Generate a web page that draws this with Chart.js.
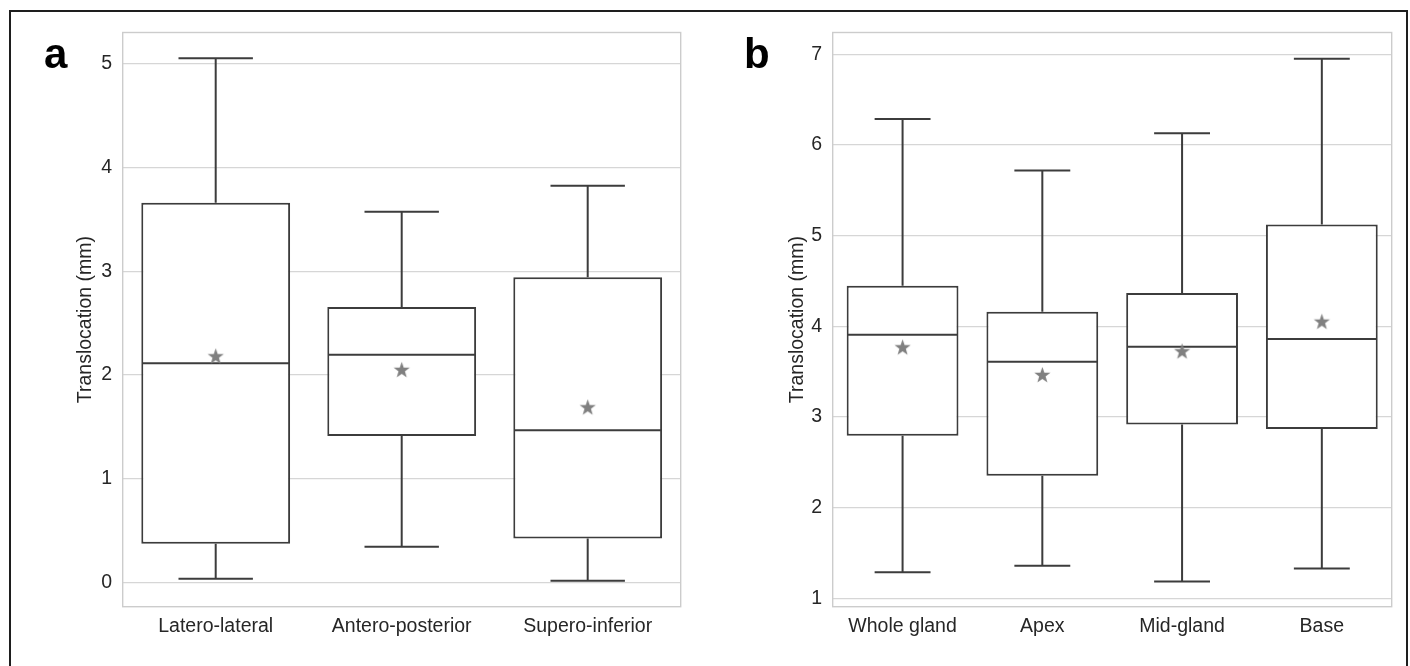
<!DOCTYPE html>
<html><head><meta charset="utf-8">
<script src="https://cdn.jsdelivr.net/npm/chart.js@4.4.1/dist/chart.umd.min.js"></script>
<style>
html,body{margin:0;padding:0;background:#fff;}
#wrap{position:relative;width:1410px;height:666px;overflow:hidden;background:#fff;}
#frame{position:absolute;left:9px;top:10px;width:1399px;height:720px;border:2px solid #1e1e1e;box-sizing:border-box;}
.pl{position:absolute;font-family:'Liberation Sans',Arial,sans-serif;font-weight:bold;font-size:42px;line-height:42px;color:#000;}
#ca{position:absolute;left:0;top:0;}
#cb{position:absolute;left:700px;top:0;}
</style>
</head><body>
<div id="wrap">
  <div id="frame"></div>
  <canvas id="ca" width="700" height="666"></canvas>
  <canvas id="cb" width="710" height="666"></canvas>
  <div class="pl" style="left:44px;top:33px;">a</div>
  <div class="pl" style="left:744px;top:33px;">b</div>
</div>
<script>
// ---- Panel a data ----
const CATS_A = ['Latero-lateral', 'Antero-posterior', 'Supero-inferior'];
const A_LO   = [0.035, 0.343, 0.015];
const A_Q1   = [0.372, 1.411, 0.424];
const A_MED  = [2.113, 2.196, 1.466];
const A_Q3   = [3.662, 2.656, 2.942];
const A_HI   = [5.055, 3.575, 3.826];
const A_MEAN = [2.176, 2.045, 1.684];
const TICKS_A = [0, 1, 2, 3, 4, 5];

// ---- Panel b data ----
const CATS_B = ['Whole gland', 'Apex', 'Mid-gland', 'Base'];
const B_LO   = [1.290, 1.361, 1.188, 1.331];
const B_Q1   = [2.794, 2.354, 2.918, 2.868];
const B_MED  = [3.907, 3.610, 3.776, 3.860];
const B_Q3   = [4.448, 4.161, 4.367, 5.123];
const B_HI   = [6.286, 5.720, 6.128, 6.950];
const B_MEAN = [3.764, 3.460, 3.720, 4.047];
const TICKS_B = [1, 2, 3, 4, 5, 6, 7];

const Y_TITLE = 'Translocation (mm)';

const LINE = '#3c3c3c';
const LW = 2;
const GRID = '#d6d6d6';
const TXT = '#262626';
const FONT = "'Liberation Sans', Arial, sans-serif";

function makeStar(r, color) {
  const c = document.createElement('canvas');
  const s = Math.ceil(r * 2 + 2);
  c.width = s; c.height = s;
  const g = c.getContext('2d');
  g.translate(s / 2, s / 2);
  g.beginPath();
  for (let k = 0; k < 10; k++) {
    const rad = k % 2 === 0 ? r : r * 0.4;
    const ang = -Math.PI / 2 + k * Math.PI / 5;
    g.lineTo(rad * Math.cos(ang), rad * Math.sin(ang));
  }
  g.closePath();
  g.fillStyle = color;
  g.fill();
  return c;
}
const STAR = makeStar(8.5, '#808080');

const whiskerPlugin = {
  id: 'whiskers',
  afterDatasetDraw(chart, args) {
    if (args.index !== 0) return;
    const st = chart.options.plugins.whiskers;
    const { ctx } = chart;
    const x = chart.scales.x, y = chart.scales.y;
    const meta = chart.getDatasetMeta(0);
    ctx.save();
    ctx.strokeStyle = LINE;
    ctx.lineWidth = LW;
    ctx.lineCap = 'butt';
    st.lo.forEach((_, i) => {
      const bw = meta.data[i].width;
      const cx = x.getPixelForValue(i);
      const half = bw / 2, cap = bw / 4;
      const pLo = y.getPixelForValue(st.lo[i]);
      const pQ1 = y.getPixelForValue(st.q1[i]);
      const pMed = y.getPixelForValue(st.med[i]);
      const pQ3 = y.getPixelForValue(st.q3[i]);
      const pHi = y.getPixelForValue(st.hi[i]);
      ctx.beginPath();
      ctx.moveTo(cx, pQ3); ctx.lineTo(cx, pHi);
      ctx.moveTo(cx, pQ1); ctx.lineTo(cx, pLo);
      ctx.moveTo(cx - cap, pHi); ctx.lineTo(cx + cap, pHi);
      ctx.moveTo(cx - cap, pLo); ctx.lineTo(cx + cap, pLo);
      ctx.moveTo(cx - half + 1, pMed); ctx.lineTo(cx + half - 1, pMed);
      ctx.stroke();
    });
    ctx.restore();
  },
  afterDraw(chart) {
    const a = chart.chartArea;
    const ctx = chart.ctx;
    ctx.save();
    ctx.strokeStyle = '#cccccc';
    ctx.lineWidth = 1.4;
    ctx.strokeRect(a.left, a.top, a.right - a.left, a.bottom - a.top);
    ctx.restore();
  }
};

function makeChart(id, cats, lo, q1, med, q3, hi, mean, ticks, ymin, ymax, pad, yWidth) {
  const canvasH = 666;
  const plotBottom = 606.7;
  return new Chart(document.getElementById(id), {
    type: 'bar',
    data: {
      labels: cats,
      datasets: [
        {
          type: 'bar',
          data: q1.map((v, i) => [v, q3[i]]),
          backgroundColor: '#ffffff',
          borderColor: LINE,
          borderWidth: LW,
          borderSkipped: false,
          barPercentage: 0.8,
          categoryPercentage: 1.0,
          order: 2
        },
        {
          type: 'line',
          data: mean,
          showLine: false,
          pointStyle: STAR,
          pointRadius: 8,
          pointHoverRadius: 8,
          order: 1
        }
      ]
    },
    options: {
      responsive: false,
      animation: false,
      devicePixelRatio: 1,
      layout: { padding: pad },
      plugins: {
        legend: { display: false },
        tooltip: { enabled: false },
        whiskers: { lo, q1, med, q3, hi }
      },
      scales: {
        x: {
          grid: { display: false, drawTicks: false },
          border: { display: false },
          ticks: { color: TXT, font: { family: FONT, size: 19.5 }, padding: 8, maxRotation: 0 },
          afterFit(s) { s.height = canvasH - plotBottom - pad.bottom; }
        },
        y: {
          min: ymin, max: ymax,
          grid: { color: GRID, lineWidth: 1.3, drawTicks: false },
          border: { display: false },
          afterBuildTicks(s) { s.ticks = ticks.map(v => ({ value: v })); },
          ticks: { color: TXT, font: { family: FONT, size: 19.5 }, padding: 10.5 },
          title: { display: true, text: Y_TITLE, color: TXT, font: { family: FONT, size: 19.5 }, padding: { top: 0, bottom: 0 } },
          afterFit(s) { s.width = yWidth; }
        }
      }
    },
    plugins: [whiskerPlugin]
  });
}

makeChart('ca', CATS_A, A_LO, A_Q1, A_MED, A_Q3, A_HI, A_MEAN, TICKS_A, -0.235, 5.304,
  { left: 74, right: 19.3, top: 32.5, bottom: 0 }, 122.7 - 74);
makeChart('cb', CATS_B, B_LO, B_Q1, B_MED, B_Q3, B_HI, B_MEAN, TICKS_B, 0.91, 7.24,
  { left: 85.5, right: 18.3, top: 32.5, bottom: 0 }, 132.7 - 85.5);
</script>
</body></html>
